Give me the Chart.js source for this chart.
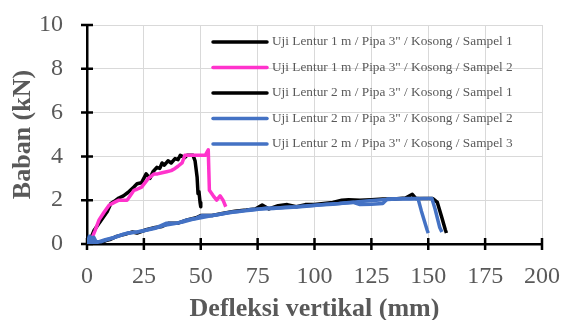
<!DOCTYPE html>
<html>
<head>
<meta charset="utf-8">
<script src="https://cdn.jsdelivr.net/npm/chart.js@4.4.1/dist/chart.umd.min.js"></script>
<style>
  html, body { margin: 0; padding: 0; background: #fff; }
</style>
</head>
<body>
<canvas id="myChart" width="564" height="320"></canvas>
<script>
// Load-deflection readings (deflection in mm, load in kN)
const defl1mS1 = [0, 1, 2, 3, 5, 7, 9, 10.5, 12, 14, 16, 18, 20.6, 22, 24, 26, 27.7, 29, 30.7, 32, 33, 34, 35.6, 37, 38.7, 40, 41, 43, 44, 46.6, 47.5, 48.4, 48.8, 49.2, 49.7, 50];
const load1mS1 = [0, 0.25, 0.35, 0.6, 0.9, 1.2, 1.5, 1.85, 1.95, 2.1, 2.2, 2.35, 2.6, 2.75, 2.8, 3.2, 3.0, 3.3, 3.5, 3.45, 3.7, 3.6, 3.8, 3.7, 3.9, 3.85, 4.05, 3.95, 4.05, 4.05, 3.8, 3.05, 2.3, 2.4, 1.9, 1.7];

const defl1mS2 = [0, 1.8, 3.5, 5.3, 7.5, 9.7, 12, 14, 17.6, 19, 20.6, 22, 24, 27, 29.5, 31, 33, 35, 37, 38.7, 40, 41.8, 43, 45, 48, 50, 52, 53.3, 53.8, 55.5, 57, 58.5, 59.8, 61];
const load1mS2 = [0, 0.18, 0.6, 1.1, 1.45, 1.77, 1.9, 2.0, 2.0, 2.2, 2.45, 2.5, 2.6, 3.0, 3.2, 3.2, 3.25, 3.3, 3.35, 3.45, 3.55, 3.7, 4.05, 4.05, 4.05, 4.05, 4.05, 4.3, 2.45, 2.2, 2.0, 2.2, 2.0, 1.7];

const defl2mS1 = [0, 1, 2, 4, 6, 8, 10, 13, 17, 20, 22, 26, 30, 33, 36, 40, 44, 48, 50, 55, 60, 65, 70, 74, 77, 80, 84, 88, 92, 96, 100, 104, 108, 112, 115, 120, 125, 130, 135, 140, 143, 144.5, 148, 152, 154, 156, 157.5, 158];
const load2mS1 = [0, 0.15, 0.05, 0.1, 0.0, 0.15, 0.2, 0.35, 0.45, 0.55, 0.5, 0.65, 0.75, 0.8, 0.95, 0.95, 1.1, 1.2, 1.3, 1.3, 1.4, 1.5, 1.55, 1.6, 1.78, 1.6, 1.75, 1.8, 1.7, 1.8, 1.8, 1.85, 1.9, 2.0, 2.02, 2.0, 2.02, 2.05, 2.05, 2.1, 2.27, 2.08, 2.08, 2.08, 1.9, 1.2, 0.65, 0.5];

const defl2mS2 = [0, 0.5, 1, 2, 3, 4, 6, 9, 13, 17.6, 22, 26, 31, 35, 39.6, 44, 48, 50.5, 55, 61, 67, 73, 79, 85, 90.5, 96.5, 101, 105, 111, 117, 120, 125, 130, 132, 140, 145.5, 147, 149.5, 150];
const load2mS2 = [0.3, 0.0, 0.35, 0.05, 0.3, 0.1, 0.1, 0.2, 0.33, 0.5, 0.55, 0.64, 0.77, 0.95, 0.95, 1.1, 1.18, 1.3, 1.3, 1.4, 1.5, 1.55, 1.64, 1.64, 1.68, 1.72, 1.77, 1.82, 1.85, 1.9, 1.8, 1.82, 1.85, 2.05, 2.08, 2.08, 1.5, 0.64, 0.5];

const defl2mS3 = [0, 1, 2, 3, 5, 8, 12, 16, 20, 25, 30, 34, 38, 42, 46, 50, 54, 58, 63, 68, 72, 76, 82, 87, 92, 97, 102, 108, 114, 118, 124, 130, 136, 142, 148, 151.6, 153, 155, 156];
const load2mS3 = [0.2, 0.05, 0.3, 0.0, 0.1, 0.2, 0.3, 0.45, 0.52, 0.6, 0.72, 0.85, 0.92, 1.0, 1.12, 1.2, 1.28, 1.35, 1.45, 1.5, 1.58, 1.6, 1.62, 1.68, 1.7, 1.75, 1.78, 1.82, 1.88, 1.92, 1.98, 2.02, 2.05, 2.06, 2.08, 2.08, 1.6, 0.77, 0.55];

const seriesLabels = [
  'Uji Lentur 1 m / Pipa 3" / Kosong / Sampel 1',
  'Uji Lentur 1 m / Pipa 3" / Kosong / Sampel 2',
  'Uji Lentur 2 m / Pipa 3" / Kosong / Sampel 1',
  'Uji Lentur 2 m / Pipa 3" / Kosong / Sampel 2',
  'Uji Lentur 2 m / Pipa 3" / Kosong / Sampel 3'
];
const seriesColors = ['#000000', '#FF33CC', '#000000', '#4472C4', '#4472C4'];

const xTicks = [0, 25, 50, 75, 100, 125, 150, 175, 200];
const yTicks = [0, 2, 4, 6, 8, 10];

const TEXT_GREY = '#595959';
const SERIF = '"Liberation Serif", "Times New Roman", serif';

const toPoints = (xs, ys) => xs.map((x, i) => ({ x: x, y: ys[i] }));
const allSeries = [
  toPoints(defl1mS1, load1mS1),
  toPoints(defl1mS2, load1mS2),
  toPoints(defl2mS1, load2mS1),
  toPoints(defl2mS2, load2mS2),
  toPoints(defl2mS3, load2mS3)
];

// black tick marks that cross the axis lines
const crossTicks = {
  id: 'crossTicks',
  beforeDatasetsDraw(chart) {
    const { ctx, chartArea, scales: { x, y } } = chart;
    ctx.save();
    ctx.strokeStyle = '#000';
    ctx.lineWidth = 2.5;
    ctx.beginPath();
    x.ticks.forEach(t => {
      const px = x.getPixelForValue(t.value);
      ctx.moveTo(px, chartArea.bottom - 6);
      ctx.lineTo(px, chartArea.bottom + 6);
    });
    y.ticks.forEach(t => {
      const py = y.getPixelForValue(t.value);
      ctx.moveTo(chartArea.left - 6, py);
      ctx.lineTo(chartArea.left + 6, py);
    });
    ctx.stroke();
    ctx.restore();
  }
};

// legend drawn inside the plot, over the grid
const innerLegend = {
  id: 'innerLegend',
  afterDatasetsDraw(chart) {
    const ctx = chart.ctx;
    const x0 = chart.chartArea.left + 126;
    const y0 = chart.chartArea.top + 17;
    const rowGap = 25.5;
    ctx.save();
    ctx.font = '13.3px ' + SERIF;
    ctx.textBaseline = 'middle';
    ctx.textAlign = 'left';
    chart.data.datasets.forEach((ds, i) => {
      const y = y0 + i * rowGap;
      ctx.strokeStyle = ds.borderColor;
      ctx.lineWidth = 3.5;
      ctx.lineCap = 'round';
      ctx.beginPath();
      ctx.moveTo(x0, y);
      ctx.lineTo(x0 + 54, y);
      ctx.stroke();
      ctx.fillStyle = TEXT_GREY;
      ctx.fillText(ds.label, x0 + 59, y);
    });
    ctx.restore();
  }
};

const data = {
  datasets: allSeries.map((pts, i) => ({
    label: seriesLabels[i],
    data: pts,
    showLine: true,
    borderColor: seriesColors[i],
    backgroundColor: seriesColors[i],
    borderWidth: 3.5,
    borderJoinStyle: 'round',
    pointRadius: 0,
    tension: 0,
    order: -i
  }))
};

const config = {
  type: 'scatter',
  data,
  options: {
    responsive: false,
    animation: false,
    layout: {
      autoPadding: false,
      padding: { top: 25, right: 22, left: 0, bottom: 0 }
    },
    plugins: {
      legend: { display: false },
      tooltip: { enabled: false }
    },
    scales: {
      x: {
        type: 'linear',
        min: 0,
        max: 200,
        afterBuildTicks: s => { s.ticks = xTicks.map(v => ({ value: v })); },
        afterFit: s => {
          s.height = 76;
          s.paddingLeft = 0;
          s.paddingRight = 0;
        },
        grid: { color: '#D9D9D9', lineWidth: 1, drawTicks: false },
        border: { color: '#000', width: 2.5 },
        ticks: {
          padding: 18,
          color: TEXT_GREY,
          font: { family: SERIF, size: 24 },
          maxRotation: 0
        },
        title: {
          display: true,
          text: 'Defleksi vertikal (mm)',
          color: TEXT_GREY,
          font: { family: SERIF, size: 26, weight: 'bold', lineHeight: 1 },
          padding: { top: 0, bottom: -2 }
        }
      },
      y: {
        type: 'linear',
        min: 0,
        max: 10,
        afterBuildTicks: s => { s.ticks = yTicks.map(v => ({ value: v })); },
        afterFit: s => {
          s.width = 87;
          s.paddingTop = 0;
          s.paddingBottom = 0;
        },
        grid: { color: '#D9D9D9', lineWidth: 1, drawTicks: false },
        border: { color: '#000', width: 2.5 },
        ticks: {
          padding: 24,
          color: TEXT_GREY,
          font: { family: SERIF, size: 24 }
        },
        title: {
          display: true,
          text: 'Baban (kN)',
          color: TEXT_GREY,
          font: { family: SERIF, size: 26, weight: 'bold', lineHeight: 1 },
          padding: { top: 10, bottom: 0 }
        }
      }
    }
  },
  plugins: [crossTicks, innerLegend]
};

new Chart(document.getElementById('myChart'), config);
</script>
</body>
</html>
